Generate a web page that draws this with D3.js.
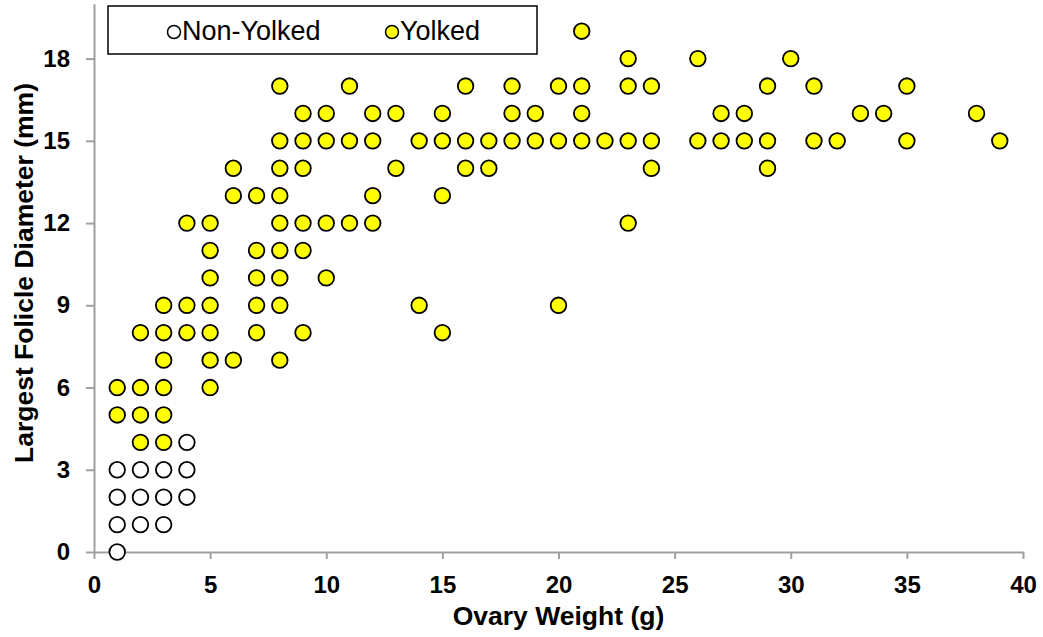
<!DOCTYPE html>
<html lang="en">
<head>
<meta charset="utf-8">
<title>Ovary Weight vs Largest Folicle Diameter</title>
<script src="https://cdn.jsdelivr.net/npm/d3@7"></script>
<style>
  body { margin: 0; background: #fff; }
  svg text { font-family: "Liberation Sans", Arial, sans-serif; fill: #000; }
  .axis path, .axis line { stroke: #a0a0a0; stroke-width: 2; }
  .axis text { font-size: 24px; font-weight: bold; }
  .title { font-size: 26.5px; font-weight: bold; }
  .legend text { font-size: 27px; }
</style>
</head>
<body>
<div id="chart"></div>
<script>
// non-yolked ovaries
var nonYolkedWeight   = [1, 1, 1, 1, 2, 2, 2, 3, 3, 3, 4, 4, 4];
var nonYolkedDiameter = [0, 1, 2, 3, 1, 2, 3, 1, 2, 3, 2, 3, 4];

// yolked ovaries
var yolkedWeight = [
  1, 1,
  2, 2, 2, 2,
  3, 3, 3, 3, 3, 3,
  4, 4, 4,
  5, 5, 5, 5, 5, 5, 5,
  6, 6, 6,
  7, 7, 7, 7, 7,
  8, 8, 8, 8, 8, 8, 8, 8, 8,
  9, 9, 9, 9, 9, 9,
  10, 10, 10, 10,
  11, 11, 11,
  12, 12, 12, 12,
  13, 13,
  14, 14,
  15, 15, 15, 15,
  16, 16, 16,
  17, 17,
  18, 18, 18,
  19, 19,
  20, 20, 20,
  21, 21, 21, 21,
  22,
  23, 23, 23, 23,
  24, 24, 24,
  26, 26,
  27, 27,
  28, 28,
  29, 29, 29,
  30,
  31, 31,
  32, 33, 34,
  35, 35,
  38, 39
];
var yolkedDiameter = [
  5, 6,
  4, 5, 6, 8,
  4, 5, 6, 7, 8, 9,
  8, 9, 12,
  6, 7, 8, 9, 10, 11, 12,
  7, 13, 14,
  8, 9, 10, 11, 13,
  7, 9, 10, 11, 12, 13, 14, 15, 17,
  8, 11, 12, 14, 15, 16,
  10, 12, 15, 16,
  12, 15, 17,
  12, 13, 15, 16,
  14, 16,
  9, 15,
  8, 13, 15, 16,
  14, 15, 17,
  14, 15,
  15, 16, 17,
  15, 16,
  9, 15, 17,
  15, 16, 17, 19,
  15,
  12, 15, 17, 18,
  14, 15, 17,
  15, 18,
  15, 16,
  15, 16,
  14, 15, 17,
  18,
  15, 17,
  15, 16, 16,
  15, 17,
  16, 15
];

var xTicks = [0, 5, 10, 15, 20, 25, 30, 35, 40];
var yTicks = [0, 3, 6, 9, 12, 15, 18];
var seriesNames = ["Non-Yolked", "Yolked"];
var seriesColors = ["#ffffff", "#ffff00"];

var width = 1043, height = 637;

var x = d3.scaleLinear().domain([0, 40]).range([94, 1023]);
var y = d3.scaleLinear().domain([0, 20]).range([552, 3.8]);

var svg = d3.select('#chart').append('svg')
  .attr('width', width)
  .attr('height', height);

svg.append('g')
  .attr('class', 'axis')
  .attr('transform', 'translate(0,' + y(0) + ')')
  .call(d3.axisBottom(x).tickValues(xTicks).tickSize(7).tickSizeOuter(0).tickPadding(17));

svg.append('g')
  .attr('class', 'axis')
  .attr('transform', 'translate(' + x(0) + ',0)')
  .call(d3.axisLeft(y).tickValues(yTicks).tickSize(8).tickSizeOuter(0).tickPadding(16));

svg.append('text')
  .attr('class', 'title')
  .attr('x', (x(0) + x(40)) / 2)
  .attr('y', 625)
  .attr('text-anchor', 'middle')
  .text('Ovary Weight (g)');

svg.append('text')
  .attr('class', 'title')
  .attr('transform', 'translate(33,273) rotate(-90)')
  .attr('text-anchor', 'middle')
  .text('Largest Folicle Diameter (mm)');

function drawSeries(xs, ys, fill) {
  svg.append('g').selectAll('circle')
    .data(xs.map(function(d, i) { return [d, ys[i]]; }))
    .enter()
    .append('circle')
    .attr('cx', function(d) { return x(d[0]); })
    .attr('cy', function(d) { return y(d[1]); })
    .attr('r', 7.8)
    .style('fill', fill)
    .style('stroke', '#000')
    .style('stroke-width', 1.8);
}

drawSeries(nonYolkedWeight, nonYolkedDiameter, seriesColors[0]);
drawSeries(yolkedWeight, yolkedDiameter, seriesColors[1]);

// legend
var legend = svg.append('g').attr('class', 'legend');
legend.append('rect')
  .attr('x', 108).attr('y', 6)
  .attr('width', 429).attr('height', 48)
  .style('fill', '#fff')
  .style('stroke', '#000')
  .style('stroke-width', 1.5);

var legendX = [174, 392];
seriesNames.forEach(function(name, i) {
  legend.append('circle')
    .attr('cx', legendX[i]).attr('cy', 32).attr('r', 6.5)
    .style('fill', seriesColors[i])
    .style('stroke', '#000')
    .style('stroke-width', 1.5);
  legend.append('text')
    .attr('x', legendX[i] + 8).attr('y', 40)
    .text(name);
});
</script>
</body>
</html>
